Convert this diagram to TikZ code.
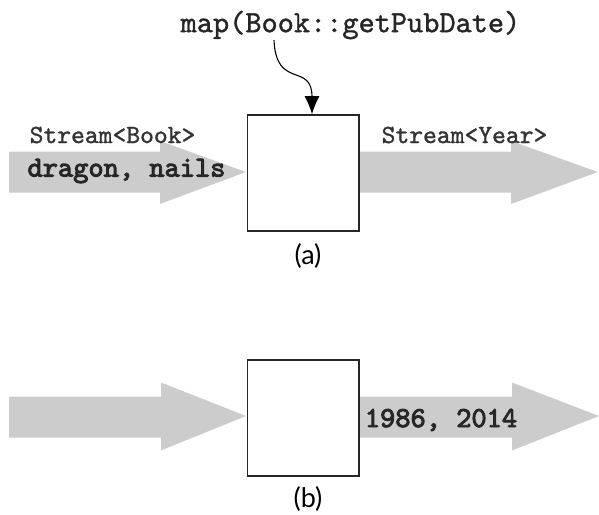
\documentclass[tikz,border=0pt]{standalone}
\usepackage{fontspec}
\newfontfamily\codefont{lmmono10-regular.otf}[FakeBold=1.2]
\newfontfamily\codefontbold{lmmono10-regular.otf}[FakeBold=3.2]
\newfontfamily\labelfont{Lato}
\usetikzlibrary{arrows.meta}

\definecolor{flowgray}{gray}{0.80}

\tikzset{
  flow/.style={fill=flowgray, draw=none},
  opbox/.style={draw=black!85, line width=1.6pt, fill=white, inner sep=0pt,
                minimum width=111.5pt, minimum height=116pt},
  streamlabel/.style={font=\codefont\fontsize{26.3}{26.3}\selectfont, inner sep=0pt, text=black!80},
  datalabel/.style={font=\codefontbold\fontsize{29}{29}\selectfont, inner sep=0pt, text=black!85},
  oplabel/.style={font=\codefont\fontsize{30.8}{30.8}\selectfont, inner sep=0pt, text=black!85},
  caption/.style={font=\labelfont\fontsize{27}{27}\selectfont, inner sep=0pt},
  pointer/.style={line width=1.1pt, -{Latex[length=18pt,width=15pt]}}
}

\begin{document}
\begin{tikzpicture}[x=1pt, y=-1pt]
  \useasboundingbox (0,0) rectangle (599,514);

  % ---------- part (a) ----------
  % input stream arrow
  \path[flow] (9,151.5) -- (160,151.5) -- (160,141) -- (246,172) -- (160,204)
              -- (160,192.5) -- (9,192.5) -- cycle;
  % output stream arrow
  \path[flow] (360,151.5) -- (511,151.5) -- (511,141) -- (598,172) -- (511,204)
              -- (511,192.5) -- (360,192.5) -- cycle;

  \node[opbox] (boxA) at (303.25,173) {};

  \node[streamlabel] (inA)  at (112.5,135) {Stream<Book>};
  \node[streamlabel] (outA) at (464.5,135) {Stream<Year>};
  \node[datalabel]   (dataA) at (126.5,171) {dragon, nails};
  \node[oplabel]     (op)   at (350.5,25) {map(Book::getPubDate)};
  \coordinate (opfoot) at (274,40);

  \draw[pointer] (opfoot) .. controls (276,90) and (312,62) .. (boxA.north -| 312,0);

  \node[caption] (capA) at (308,256) {(a)};

  % ---------- part (b) ----------
  \path[flow] (9,396.5) -- (161,396.5) -- (161,382.5) -- (246,416) -- (161,450.5)
              -- (161,437.5) -- (9,437.5) -- cycle;
  \path[flow] (360,396.5) -- (512,396.5) -- (512,382.5) -- (599,416) -- (512,450.5)
              -- (512,437.5) -- (360,437.5) -- cycle;

  \node[opbox] (boxB) at (303.25,418.25) {};

  \node[datalabel] (dataB) at (441,420) {1986, 2014};

  \node[caption] (capB) at (308,499) {(b)};
\end{tikzpicture}
\end{document}
